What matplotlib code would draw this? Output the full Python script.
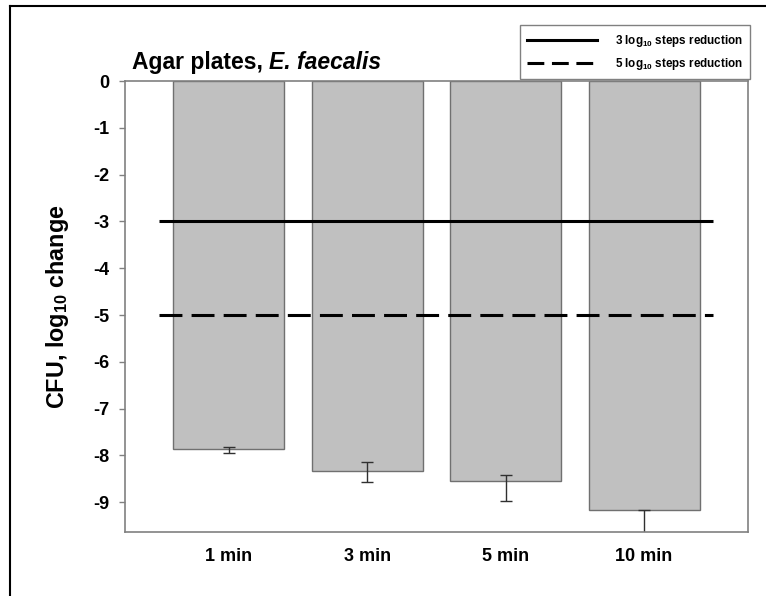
import numpy as np
import matplotlib
matplotlib.use("Agg")
import matplotlib.pyplot as plt
from matplotlib.lines import Line2D

plt.rcParams["font.family"] = ["Liberation Sans", "DejaVu Sans"]
plt.rcParams["font.weight"] = "bold"
plt.rcParams["axes.unicode_minus"] = False
plt.rcParams["mathtext.fontset"] = "custom"
plt.rcParams["mathtext.rm"] = "Liberation Sans:bold"
plt.rcParams["mathtext.it"] = "Liberation Sans:italic:bold"
plt.rcParams["mathtext.bf"] = "Liberation Sans:bold"

# =========================
# DATA
# =========================
times = ["1 min", "3 min", "5 min", "10 min"]
log_change = [-7.87, -8.33, -8.56, -9.17]
err_upper = [0.04, 0.18, 0.14, 0.0]
err_lower = [0.08, 0.25, 0.42, 0.60]
threshold_3 = -3
threshold_5 = -5
yticks = [0, -1, -2, -3, -4, -5, -6, -7, -8, -9]

# =========================
# PLOT
# =========================
fig = plt.figure(figsize=(7.66, 5.96), dpi=100)
ax = fig.add_axes([0.1628, 0.1067, 0.8137, 0.757])

x = np.arange(1, len(times) + 1)
ax.bar(x, log_change, width=0.8, color="#c0c0c0", edgecolor="#707070", linewidth=1.0)

ax.errorbar(x, log_change, yerr=[err_lower, err_upper], fmt="none",
            ecolor="#303030", elinewidth=1.0, capsize=4, capthick=1.0)

dash = (0, (7.5, 3))
ax.hlines(threshold_3, 0.5, 4.5, colors="black", linewidth=2.2)
ax.hlines(threshold_5, 0.5, 4.5, colors="black", linewidth=2.2, linestyles=dash)

ax.set_xlim(0.25, 4.75)
ax.set_ylim(-9.65, 0)
ax.set_xticks(x)
ax.set_xticklabels(times, fontsize=13, fontweight="bold")
ax.set_yticks(yticks)
ax.set_yticklabels([str(v) for v in yticks], fontsize=13, fontweight="bold")
ax.tick_params(axis="x", length=0, pad=11)
ax.tick_params(axis="y", length=4, width=1, color="#808080", pad=7)

for s in ax.spines.values():
    s.set_color("#808080")
    s.set_linewidth(1.2)

ax.set_ylabel(r"CFU, log$_{10}$ change", fontsize=16.8, fontweight="bold")
ax.yaxis.set_label_coords(-0.086, 0.5)

# title: plain part + italic species name
t1 = fig.text(0.172, 0.884, "Agar plates, ", fontsize=16.5,
              fontweight="bold", ha="left", va="baseline")
ax.annotate("E. faecalis", xy=(1, 0), xycoords=t1, fontsize=16.5,
            fontweight="bold", fontstyle="italic", ha="left", va="bottom",
            annotation_clip=False)

handles = [Line2D([], [], color="black", linewidth=2.2),
           Line2D([], [], color="black", linewidth=2.2, linestyle=(0, (5.5, 2.5)))]
labels = [r"3 log$_{10}$ steps reduction", r"5 log$_{10}$ steps reduction"]
leg = fig.legend(handles, labels, loc="upper right", bbox_to_anchor=(0.979, 0.958),
                 prop={"size": 8.4, "weight": "bold"}, handlelength=6.0,
                 handletextpad=1.5, borderpad=0.65, labelspacing=0.6,
                 borderaxespad=0, fancybox=False, framealpha=1, edgecolor="#808080")
leg.get_frame().set_linewidth(1.0)

# outer frame (top and left edges visible)
fig.add_artist(Line2D([10 / 766, 10 / 766], [0, 1 - 6 / 596], transform=fig.transFigure,
                      color="black", linewidth=1.5))
fig.add_artist(Line2D([10 / 766, 1], [1 - 6 / 596, 1 - 6 / 596], transform=fig.transFigure,
                      color="black", linewidth=1.5))

fig.savefig("out.png", dpi=100)
